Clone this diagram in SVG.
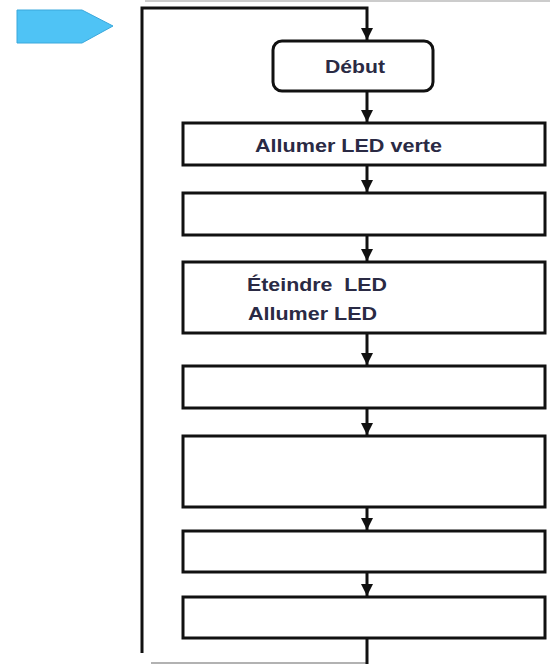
<svg xmlns="http://www.w3.org/2000/svg" width="550" height="664" viewBox="0 0 550 664">
<defs>
<style>
.box{fill:#fff;stroke:#111;stroke-width:3}
.con{fill:none;stroke:#111;stroke-width:3}
.lbl{font-family:"Liberation Sans",Arial,sans-serif;font-weight:bold;font-size:18px;fill:#2a2a44;white-space:pre}
</style>
<marker id="ah" markerUnits="userSpaceOnUse" markerWidth="14" markerHeight="12" refX="12" refY="6" orient="auto">
<path d="M0,0 L12,6 L0,12 Z" fill="#111"/>
</marker>
</defs>
<rect width="550" height="664" fill="#fff"/>
<line x1="145" y1="1" x2="550" y2="1" stroke="#bbb" stroke-width="1.5"/>
<line x1="151" y1="663" x2="366" y2="663" stroke="#999" stroke-width="1.5"/>
<polygon id="blue-tag" points="17,10 82,10 113,26 82,43 17,43" fill="#4fc3f5" stroke="#3aa8dc" stroke-width="1"/>
<g id="connectors">
<path class="con" d="M142,653 V8 H367 V40" stroke-width="4.5" marker-end="url(#ah)"/>
<line class="con" x1="367" y1="91" x2="367" y2="122" marker-end="url(#ah)"/>
<line class="con" x1="367" y1="165" x2="367" y2="192" marker-end="url(#ah)"/>
<line class="con" x1="367" y1="235" x2="367" y2="261" marker-end="url(#ah)"/>
<line class="con" x1="367" y1="333" x2="367" y2="365" marker-end="url(#ah)"/>
<line class="con" x1="367" y1="408" x2="367" y2="435" marker-end="url(#ah)"/>
<line class="con" x1="367" y1="507" x2="367" y2="530" marker-end="url(#ah)"/>
<line class="con" x1="367" y1="572" x2="367" y2="596" marker-end="url(#ah)"/>
<line class="con" x1="367" y1="638" x2="367" y2="664" stroke-width="4"/>
</g>
<g id="debut">
<rect class="box" x="273" y="41" width="160" height="50" rx="9"/>
<text class="lbl" x="325" y="73" textLength="60" lengthAdjust="spacingAndGlyphs">Début</text>
</g>
<g id="b1">
<rect class="box" x="183" y="123" width="362" height="42"/>
<text class="lbl" x="255" y="152" textLength="187" lengthAdjust="spacingAndGlyphs">Allumer LED verte</text>
</g>
<g id="b2"><rect class="box" x="183" y="193" width="362" height="42"/></g>
<g id="b3">
<rect class="box" x="183" y="262" width="362" height="71"/>
<text class="lbl" x="247" y="291" textLength="140" lengthAdjust="spacingAndGlyphs">Éteindre  LED</text>
<text class="lbl" x="248" y="320" textLength="129" lengthAdjust="spacingAndGlyphs">Allumer LED</text>
</g>
<g id="b4"><rect class="box" x="183" y="366" width="362" height="42"/></g>
<g id="b5"><rect class="box" x="183" y="436" width="362" height="71"/></g>
<g id="b6"><rect class="box" x="183" y="531" width="362" height="41"/></g>
<g id="b7"><rect class="box" x="183" y="597" width="362" height="41"/></g>
</svg>
